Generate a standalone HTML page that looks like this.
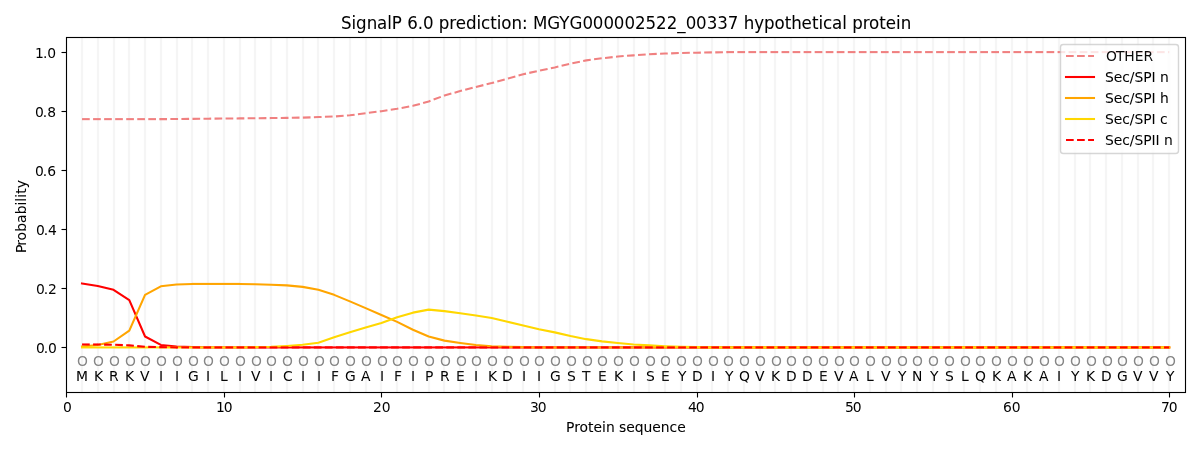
<!DOCTYPE html>
<html lang="en">
<head>
<meta charset="utf-8">
<title>SignalP 6.0 prediction: MGYG000002522_00337 hypothetical protein</title>
<style>
html,body{margin:0;padding:0;background:#fff;}
body{width:1200px;height:450px;overflow:hidden;}
svg{display:block;}
svg text{font-family:"DejaVu Sans","Liberation Sans",sans-serif;font-size:13.889px;fill:#000;white-space:pre;}
.o text{fill:#868686;}
.g{stroke:#f5f5f5;stroke-width:2.2;}
.k{stroke:#000;stroke-width:1.1111;}
.c{fill:none;stroke-width:2.0833;stroke-linejoin:round;}
</style>
</head>
<body>
<svg width="1200" height="450" viewBox="0 0 1200 450">
<rect x="0" y="0" width="1200" height="450" fill="#fff"/>
<g class="k"><line x1="66.5" y1="392.5" x2="66.5" y2="397.5"/><line x1="224.5" y1="392.5" x2="224.5" y2="397.5"/><line x1="381.5" y1="392.5" x2="381.5" y2="397.5"/><line x1="539.5" y1="392.5" x2="539.5" y2="397.5"/><line x1="697.5" y1="392.5" x2="697.5" y2="397.5"/><line x1="854.5" y1="392.5" x2="854.5" y2="397.5"/><line x1="1012.5" y1="392.5" x2="1012.5" y2="397.5"/><line x1="1169.5" y1="392.5" x2="1169.5" y2="397.5"/><line x1="61.5" y1="347.5" x2="66.5" y2="347.5"/><line x1="61.5" y1="288.5" x2="66.5" y2="288.5"/><line x1="61.5" y1="229.5" x2="66.5" y2="229.5"/><line x1="61.5" y1="170.5" x2="66.5" y2="170.5"/><line x1="61.5" y1="111.5" x2="66.5" y2="111.5"/><line x1="61.5" y1="52.5" x2="66.5" y2="52.5"/></g>
<g>
<text x="62.92" y="412">0</text>
<text x="215.972 223.847" y="412">10</text>
<text fill-opacity="0.98" x="372.917 381.667" y="412">20</text>
<text fill-opacity="0.98" x="529.905 537.655" y="412">30</text>
<text x="687.98 695.73" y="412">40</text>
<text x="844.916 852.666" y="412">50</text>
<text fill-opacity="0.98" x="1002.909 1011.784" y="412">60</text>
<text x="1160.956 1168.706" y="412">70</text>
<text x="35.96 43.71 48.085" y="353">0.0</text>
<text fill-opacity="0.98" x="35.92 43.67 48.045" y="294">0.2</text>
<text x="35.968 43.718 48.093" y="235">0.4</text>
<text x="34.901 42.651 47.276" y="176">0.6</text>
<text x="34.955 42.705 47.33" y="117">0.8</text>
<text x="34.875 43 47.125" y="58">1.0</text>
</g>
<text stroke="#000" stroke-width="0.059" x="565.991 574.366 579.616 588.116 593.616 602.116 605.991 614.741 619.116 626.241 634.741 643.616 652.366 660.866 669.616 677.241" y="432">Protein sequence</text>
<text stroke="#000" stroke-width="0.044" transform="translate(26 253.869) rotate(-90)" x="0.75 8.125 13.375 22.125 30.75 39.625 48.25 52.125 56 60.125 65.625" y="0">Probability</text>
<g class="g"><line x1="82" y1="37.50" x2="82" y2="392.50"/><line x1="98" y1="37.50" x2="98" y2="392.50"/><line x1="114" y1="37.50" x2="114" y2="392.50"/><line x1="129" y1="37.50" x2="129" y2="392.50"/><line x1="145" y1="37.50" x2="145" y2="392.50"/><line x1="161" y1="37.50" x2="161" y2="392.50"/><line x1="177" y1="37.50" x2="177" y2="392.50"/><line x1="192" y1="37.50" x2="192" y2="392.50"/><line x1="208" y1="37.50" x2="208" y2="392.50"/><line x1="224" y1="37.50" x2="224" y2="392.50"/><line x1="240" y1="37.50" x2="240" y2="392.50"/><line x1="255" y1="37.50" x2="255" y2="392.50"/><line x1="271" y1="37.50" x2="271" y2="392.50"/><line x1="287" y1="37.50" x2="287" y2="392.50"/><line x1="303" y1="37.50" x2="303" y2="392.50"/><line x1="318" y1="37.50" x2="318" y2="392.50"/><line x1="334" y1="37.50" x2="334" y2="392.50"/><line x1="350" y1="37.50" x2="350" y2="392.50"/><line x1="366" y1="37.50" x2="366" y2="392.50"/><line x1="381" y1="37.50" x2="381" y2="392.50"/><line x1="397" y1="37.50" x2="397" y2="392.50"/><line x1="413" y1="37.50" x2="413" y2="392.50"/><line x1="429" y1="37.50" x2="429" y2="392.50"/><line x1="444" y1="37.50" x2="444" y2="392.50"/><line x1="460" y1="37.50" x2="460" y2="392.50"/><line x1="476" y1="37.50" x2="476" y2="392.50"/><line x1="492" y1="37.50" x2="492" y2="392.50"/><line x1="507" y1="37.50" x2="507" y2="392.50"/><line x1="523" y1="37.50" x2="523" y2="392.50"/><line x1="539" y1="37.50" x2="539" y2="392.50"/><line x1="555" y1="37.50" x2="555" y2="392.50"/><line x1="570" y1="37.50" x2="570" y2="392.50"/><line x1="586" y1="37.50" x2="586" y2="392.50"/><line x1="602" y1="37.50" x2="602" y2="392.50"/><line x1="618" y1="37.50" x2="618" y2="392.50"/><line x1="634" y1="37.50" x2="634" y2="392.50"/><line x1="649" y1="37.50" x2="649" y2="392.50"/><line x1="665" y1="37.50" x2="665" y2="392.50"/><line x1="681" y1="37.50" x2="681" y2="392.50"/><line x1="697" y1="37.50" x2="697" y2="392.50"/><line x1="712" y1="37.50" x2="712" y2="392.50"/><line x1="728" y1="37.50" x2="728" y2="392.50"/><line x1="744" y1="37.50" x2="744" y2="392.50"/><line x1="760" y1="37.50" x2="760" y2="392.50"/><line x1="775" y1="37.50" x2="775" y2="392.50"/><line x1="791" y1="37.50" x2="791" y2="392.50"/><line x1="807" y1="37.50" x2="807" y2="392.50"/><line x1="823" y1="37.50" x2="823" y2="392.50"/><line x1="838" y1="37.50" x2="838" y2="392.50"/><line x1="854" y1="37.50" x2="854" y2="392.50"/><line x1="870" y1="37.50" x2="870" y2="392.50"/><line x1="886" y1="37.50" x2="886" y2="392.50"/><line x1="901" y1="37.50" x2="901" y2="392.50"/><line x1="917" y1="37.50" x2="917" y2="392.50"/><line x1="933" y1="37.50" x2="933" y2="392.50"/><line x1="949" y1="37.50" x2="949" y2="392.50"/><line x1="964" y1="37.50" x2="964" y2="392.50"/><line x1="980" y1="37.50" x2="980" y2="392.50"/><line x1="996" y1="37.50" x2="996" y2="392.50"/><line x1="1012" y1="37.50" x2="1012" y2="392.50"/><line x1="1027" y1="37.50" x2="1027" y2="392.50"/><line x1="1043" y1="37.50" x2="1043" y2="392.50"/><line x1="1059" y1="37.50" x2="1059" y2="392.50"/><line x1="1075" y1="37.50" x2="1075" y2="392.50"/><line x1="1090" y1="37.50" x2="1090" y2="392.50"/><line x1="1106" y1="37.50" x2="1106" y2="392.50"/><line x1="1122" y1="37.50" x2="1122" y2="392.50"/><line x1="1138" y1="37.50" x2="1138" y2="392.50"/><line x1="1153" y1="37.50" x2="1153" y2="392.50"/><line x1="1169" y1="37.50" x2="1169" y2="392.50"/></g>
<g>
<g class="c" stroke="#f08080" stroke-dasharray="7.708 3.333"><path d="M160.818 119.138 L176.574 119.02 L192.331 118.872 L208.088 118.695 L223.844 118.547 L239.601 118.4 L255.358 118.252 L271.114 118.075 L286.871 117.868 L302.628 117.602 L318.384 117.071 L334.141 116.48 L349.897 115.299 L365.654 113.232 L381.411 111.164 L397.167 108.802 L412.924 105.849 L428.681 101.419 L444.437 95.512 L460.194 91.082 L475.951 86.948 L491.707 83.109 L507.464 78.679 L523.221 74.249 L538.977 70.705 L554.734 67.456 L570.491 63.617 L586.247 60.369 L602.004 58.301 L617.761 56.529 L633.517 55.348 L649.274 54.167 L665.031 53.576 L680.787 52.986 L696.544 52.69 L712.3 52.395 L728.057 52.1" stroke-dashoffset="1.492"/></g>
<g class="c" stroke="#f08080"><line x1="82.034" y1="119.138" x2="89.743" y2="119.138"/><line x1="93.076" y1="119.138" x2="100.784" y2="119.138"/><line x1="104.118" y1="119.138" x2="111.826" y2="119.138"/><line x1="115.159" y1="119.138" x2="122.868" y2="119.138"/><line x1="126.201" y1="119.138" x2="133.909" y2="119.138"/><line x1="137.243" y1="119.138" x2="144.951" y2="119.138"/><line x1="148.284" y1="119.138" x2="155.993" y2="119.138"/><line x1="159.326" y1="119.138" x2="161" y2="119.138"/><line x1="728" y1="52.1" x2="734.028" y2="52.1"/><line x1="737.362" y1="52.1" x2="745.07" y2="52.1"/><line x1="748.403" y1="52.1" x2="756.112" y2="52.1"/><line x1="759.445" y1="52.1" x2="767.153" y2="52.1"/><line x1="770.487" y1="52.1" x2="778.195" y2="52.1"/><line x1="781.528" y1="52.1" x2="789.237" y2="52.1"/><line x1="792.57" y1="52.1" x2="800.278" y2="52.1"/><line x1="803.612" y1="52.1" x2="811.32" y2="52.1"/><line x1="814.653" y1="52.1" x2="822.362" y2="52.1"/><line x1="825.695" y1="52.1" x2="833.403" y2="52.1"/><line x1="836.737" y1="52.1" x2="844.445" y2="52.1"/><line x1="847.778" y1="52.1" x2="855.487" y2="52.1"/><line x1="858.82" y1="52.1" x2="866.528" y2="52.1"/><line x1="869.862" y1="52.1" x2="877.57" y2="52.1"/><line x1="880.903" y1="52.1" x2="888.612" y2="52.1"/><line x1="891.945" y1="52.1" x2="899.653" y2="52.1"/><line x1="902.987" y1="52.1" x2="910.695" y2="52.1"/><line x1="914.028" y1="52.1" x2="921.737" y2="52.1"/><line x1="925.07" y1="52.1" x2="932.778" y2="52.1"/><line x1="936.112" y1="52.1" x2="943.82" y2="52.1"/><line x1="947.153" y1="52.1" x2="954.862" y2="52.1"/><line x1="958.195" y1="52.1" x2="965.903" y2="52.1"/><line x1="969.237" y1="52.1" x2="976.945" y2="52.1"/><line x1="980.278" y1="52.1" x2="987.987" y2="52.1"/><line x1="991.32" y1="52.1" x2="999.028" y2="52.1"/><line x1="1002.362" y1="52.1" x2="1010.07" y2="52.1"/><line x1="1013.403" y1="52.1" x2="1021.112" y2="52.1"/><line x1="1024.445" y1="52.1" x2="1032.153" y2="52.1"/><line x1="1035.487" y1="52.1" x2="1043.195" y2="52.1"/><line x1="1046.528" y1="52.1" x2="1054.237" y2="52.1"/><line x1="1057.57" y1="52.1" x2="1065.278" y2="52.1"/><line x1="1068.612" y1="52.1" x2="1076.32" y2="52.1"/><line x1="1079.653" y1="52.1" x2="1087.362" y2="52.1"/><line x1="1090.695" y1="52.1" x2="1098.403" y2="52.1"/><line x1="1101.737" y1="52.1" x2="1109.445" y2="52.1"/><line x1="1112.778" y1="52.1" x2="1120.487" y2="52.1"/><line x1="1123.82" y1="52.1" x2="1131.528" y2="52.1"/><line x1="1134.862" y1="52.1" x2="1142.57" y2="52.1"/><line x1="1145.903" y1="52.1" x2="1153.612" y2="52.1"/><line x1="1156.945" y1="52.1" x2="1164.653" y2="52.1"/><line x1="1167.987" y1="52.1" x2="1169.243" y2="52.1"/></g>
<g class="c" stroke="#ff0000"><path d="M82.034 283.486 L97.791 285.996 L113.548 289.835 L129.304 300.172 L145.061 336.497 L160.818 344.913 L176.574 346.597 L192.331 347.128 L208.088 347.424"/></g>
<g class="c" stroke="#ff0000"><line x1="82.034" y1="283.486" x2="81.006" y2="283.322"/><line x1="208" y1="347.424" x2="224" y2="347.424"/><line x1="224" y1="347.424" x2="240" y2="347.424"/><line x1="240" y1="347.424" x2="256" y2="347.424"/><line x1="256" y1="347.424" x2="272" y2="347.424"/><line x1="272" y1="347.424" x2="288" y2="347.424"/><line x1="288" y1="347.424" x2="304" y2="347.424"/><line x1="304" y1="347.424" x2="320" y2="347.424"/><line x1="320" y1="347.424" x2="336" y2="347.424"/><line x1="336" y1="347.424" x2="352" y2="347.424"/><line x1="352" y1="347.424" x2="368" y2="347.424"/><line x1="368" y1="347.424" x2="384" y2="347.424"/><line x1="384" y1="347.424" x2="400" y2="347.424"/><line x1="400" y1="347.424" x2="416" y2="347.424"/><line x1="416" y1="347.424" x2="432" y2="347.424"/><line x1="432" y1="347.424" x2="448" y2="347.424"/><line x1="448" y1="347.424" x2="464" y2="347.424"/><line x1="464" y1="347.424" x2="480" y2="347.424"/><line x1="480" y1="347.424" x2="496" y2="347.424"/><line x1="496" y1="347.424" x2="512" y2="347.424"/><line x1="512" y1="347.424" x2="528" y2="347.424"/><line x1="528" y1="347.424" x2="544" y2="347.424"/><line x1="544" y1="347.424" x2="560" y2="347.424"/><line x1="560" y1="347.424" x2="576" y2="347.424"/><line x1="576" y1="347.424" x2="592" y2="347.424"/><line x1="592" y1="347.424" x2="608" y2="347.424"/><line x1="608" y1="347.424" x2="624" y2="347.424"/><line x1="624" y1="347.424" x2="640" y2="347.424"/><line x1="640" y1="347.424" x2="656" y2="347.424"/><line x1="656" y1="347.424" x2="672" y2="347.424"/><line x1="672" y1="347.424" x2="688" y2="347.424"/><line x1="688" y1="347.424" x2="704" y2="347.424"/><line x1="704" y1="347.424" x2="720" y2="347.424"/><line x1="720" y1="347.424" x2="736" y2="347.424"/><line x1="736" y1="347.424" x2="752" y2="347.424"/><line x1="752" y1="347.424" x2="768" y2="347.424"/><line x1="768" y1="347.424" x2="784" y2="347.424"/><line x1="784" y1="347.424" x2="800" y2="347.424"/><line x1="800" y1="347.424" x2="816" y2="347.424"/><line x1="816" y1="347.424" x2="832" y2="347.424"/><line x1="832" y1="347.424" x2="848" y2="347.424"/><line x1="848" y1="347.424" x2="864" y2="347.424"/><line x1="864" y1="347.424" x2="880" y2="347.424"/><line x1="880" y1="347.424" x2="896" y2="347.424"/><line x1="896" y1="347.424" x2="912" y2="347.424"/><line x1="912" y1="347.424" x2="928" y2="347.424"/><line x1="928" y1="347.424" x2="944" y2="347.424"/><line x1="944" y1="347.424" x2="960" y2="347.424"/><line x1="960" y1="347.424" x2="976" y2="347.424"/><line x1="976" y1="347.424" x2="992" y2="347.424"/><line x1="992" y1="347.424" x2="1008" y2="347.424"/><line x1="1008" y1="347.424" x2="1024" y2="347.424"/><line x1="1024" y1="347.424" x2="1040" y2="347.424"/><line x1="1040" y1="347.424" x2="1056" y2="347.424"/><line x1="1056" y1="347.424" x2="1072" y2="347.424"/><line x1="1072" y1="347.424" x2="1088" y2="347.424"/><line x1="1088" y1="347.424" x2="1104" y2="347.424"/><line x1="1104" y1="347.424" x2="1120" y2="347.424"/><line x1="1120" y1="347.424" x2="1136" y2="347.424"/><line x1="1136" y1="347.424" x2="1152" y2="347.424"/><line x1="1152" y1="347.424" x2="1170.285" y2="347.424"/></g>
<g class="c" stroke="#ffa500"><path d="M82.034 346.538 L97.791 345.061 L113.548 341.517 L129.304 330.59 L145.061 294.856 L160.818 286.292 L176.574 284.52 L192.331 283.929"/><path d="M239.601 283.929 L255.358 284.224 L271.114 284.815 L286.871 285.406 L302.628 286.882 L318.384 289.835 L334.141 294.856 L349.897 301.353 L365.654 308.146 L381.411 314.938 L397.167 321.878 L412.924 329.704 L428.681 336.497 L444.437 340.631 L460.194 342.994 L475.951 345.061 L491.707 346.242 L507.464 346.833 L523.221 347.128 L538.977 347.424"/></g>
<g class="c" stroke="#ffa500"><line x1="82.034" y1="346.538" x2="80.997" y2="346.635"/><line x1="192" y1="283.929" x2="208" y2="283.929"/><line x1="208" y1="283.929" x2="224" y2="283.929"/><line x1="224" y1="283.929" x2="240" y2="283.929"/><line x1="538" y1="347.424" x2="554" y2="347.424"/><line x1="554" y1="347.424" x2="570" y2="347.424"/><line x1="570" y1="347.424" x2="586" y2="347.424"/><line x1="586" y1="347.424" x2="602" y2="347.424"/><line x1="602" y1="347.424" x2="618" y2="347.424"/><line x1="618" y1="347.424" x2="634" y2="347.424"/><line x1="634" y1="347.424" x2="650" y2="347.424"/><line x1="650" y1="347.424" x2="666" y2="347.424"/><line x1="666" y1="347.424" x2="682" y2="347.424"/><line x1="682" y1="347.424" x2="698" y2="347.424"/><line x1="698" y1="347.424" x2="714" y2="347.424"/><line x1="714" y1="347.424" x2="730" y2="347.424"/><line x1="730" y1="347.424" x2="746" y2="347.424"/><line x1="746" y1="347.424" x2="762" y2="347.424"/><line x1="762" y1="347.424" x2="778" y2="347.424"/><line x1="778" y1="347.424" x2="794" y2="347.424"/><line x1="794" y1="347.424" x2="810" y2="347.424"/><line x1="810" y1="347.424" x2="826" y2="347.424"/><line x1="826" y1="347.424" x2="842" y2="347.424"/><line x1="842" y1="347.424" x2="858" y2="347.424"/><line x1="858" y1="347.424" x2="874" y2="347.424"/><line x1="874" y1="347.424" x2="890" y2="347.424"/><line x1="890" y1="347.424" x2="906" y2="347.424"/><line x1="906" y1="347.424" x2="922" y2="347.424"/><line x1="922" y1="347.424" x2="938" y2="347.424"/><line x1="938" y1="347.424" x2="954" y2="347.424"/><line x1="954" y1="347.424" x2="970" y2="347.424"/><line x1="970" y1="347.424" x2="986" y2="347.424"/><line x1="986" y1="347.424" x2="1002" y2="347.424"/><line x1="1002" y1="347.424" x2="1018" y2="347.424"/><line x1="1018" y1="347.424" x2="1034" y2="347.424"/><line x1="1034" y1="347.424" x2="1050" y2="347.424"/><line x1="1050" y1="347.424" x2="1066" y2="347.424"/><line x1="1066" y1="347.424" x2="1082" y2="347.424"/><line x1="1082" y1="347.424" x2="1098" y2="347.424"/><line x1="1098" y1="347.424" x2="1114" y2="347.424"/><line x1="1114" y1="347.424" x2="1130" y2="347.424"/><line x1="1130" y1="347.424" x2="1146" y2="347.424"/><line x1="1146" y1="347.424" x2="1162" y2="347.424"/><line x1="1162" y1="347.424" x2="1170.285" y2="347.424"/></g>
<g class="c" stroke="#ffd700"><path d="M239.601 347.424 L255.358 347.128 L271.114 346.833 L286.871 345.947 L302.628 344.766 L318.384 342.698 L334.141 337.235 L349.897 332.214 L365.654 327.489 L381.411 322.912 L397.167 317.301 L412.924 312.634 L428.681 309.622 L444.437 311.099 L460.194 313.166 L475.951 315.529 L491.707 318.039 L507.464 321.73 L523.221 325.422 L538.977 329.261 L554.734 332.362 L570.491 336.054 L586.247 339.155 L602.004 341.369 L617.761 342.994 L633.517 344.47 L649.274 345.356 L665.031 346.242 L680.787 346.833 L696.544 347.128 L712.3 347.424"/></g>
<g class="c" stroke="#ffd700"><line x1="80.993" y1="347.424" x2="96" y2="347.424"/><line x1="96" y1="347.424" x2="112" y2="347.424"/><line x1="112" y1="347.424" x2="128" y2="347.424"/><line x1="128" y1="347.424" x2="144" y2="347.424"/><line x1="144" y1="347.424" x2="160" y2="347.424"/><line x1="160" y1="347.424" x2="176" y2="347.424"/><line x1="176" y1="347.424" x2="192" y2="347.424"/><line x1="192" y1="347.424" x2="208" y2="347.424"/><line x1="208" y1="347.424" x2="224" y2="347.424"/><line x1="224" y1="347.424" x2="240" y2="347.424"/><line x1="712" y1="347.424" x2="728" y2="347.424"/><line x1="728" y1="347.424" x2="744" y2="347.424"/><line x1="744" y1="347.424" x2="760" y2="347.424"/><line x1="760" y1="347.424" x2="776" y2="347.424"/><line x1="776" y1="347.424" x2="792" y2="347.424"/><line x1="792" y1="347.424" x2="808" y2="347.424"/><line x1="808" y1="347.424" x2="824" y2="347.424"/><line x1="824" y1="347.424" x2="840" y2="347.424"/><line x1="840" y1="347.424" x2="856" y2="347.424"/><line x1="856" y1="347.424" x2="872" y2="347.424"/><line x1="872" y1="347.424" x2="888" y2="347.424"/><line x1="888" y1="347.424" x2="904" y2="347.424"/><line x1="904" y1="347.424" x2="920" y2="347.424"/><line x1="920" y1="347.424" x2="936" y2="347.424"/><line x1="936" y1="347.424" x2="952" y2="347.424"/><line x1="952" y1="347.424" x2="968" y2="347.424"/><line x1="968" y1="347.424" x2="984" y2="347.424"/><line x1="984" y1="347.424" x2="1000" y2="347.424"/><line x1="1000" y1="347.424" x2="1016" y2="347.424"/><line x1="1016" y1="347.424" x2="1032" y2="347.424"/><line x1="1032" y1="347.424" x2="1048" y2="347.424"/><line x1="1048" y1="347.424" x2="1064" y2="347.424"/><line x1="1064" y1="347.424" x2="1080" y2="347.424"/><line x1="1080" y1="347.424" x2="1096" y2="347.424"/><line x1="1096" y1="347.424" x2="1112" y2="347.424"/><line x1="1112" y1="347.424" x2="1128" y2="347.424"/><line x1="1128" y1="347.424" x2="1144" y2="347.424"/><line x1="1144" y1="347.424" x2="1160" y2="347.424"/><line x1="1160" y1="347.424" x2="1170.285" y2="347.424"/></g>
<g class="c" stroke="#ff0000" stroke-dasharray="7.708 3.333"><path d="M97.791 344.47 L113.548 344.766 L129.304 345.356 L145.061 346.833 L160.818 347.128 L176.574 347.424" stroke-dashoffset="4.715"/></g>
<g class="c" stroke="#ff0000"><line x1="82.034" y1="344.47" x2="89.743" y2="344.47"/><line x1="93.076" y1="344.47" x2="98" y2="344.47"/><line x1="176" y1="347.424" x2="177.988" y2="347.424"/><line x1="181.321" y1="347.424" x2="189.029" y2="347.424"/><line x1="192.363" y1="347.424" x2="200.071" y2="347.424"/><line x1="203.404" y1="347.424" x2="211.113" y2="347.424"/><line x1="214.446" y1="347.424" x2="222.154" y2="347.424"/><line x1="225.488" y1="347.424" x2="233.196" y2="347.424"/><line x1="236.529" y1="347.424" x2="244.238" y2="347.424"/><line x1="247.571" y1="347.424" x2="255.279" y2="347.424"/><line x1="258.613" y1="347.424" x2="266.321" y2="347.424"/><line x1="269.654" y1="347.424" x2="277.363" y2="347.424"/><line x1="280.696" y1="347.424" x2="288.404" y2="347.424"/><line x1="291.738" y1="347.424" x2="299.446" y2="347.424"/><line x1="302.779" y1="347.424" x2="310.488" y2="347.424"/><line x1="313.821" y1="347.424" x2="321.529" y2="347.424"/><line x1="324.863" y1="347.424" x2="332.571" y2="347.424"/><line x1="335.904" y1="347.424" x2="343.613" y2="347.424"/><line x1="346.946" y1="347.424" x2="354.654" y2="347.424"/><line x1="357.988" y1="347.424" x2="365.696" y2="347.424"/><line x1="369.029" y1="347.424" x2="376.738" y2="347.424"/><line x1="380.071" y1="347.424" x2="387.779" y2="347.424"/><line x1="391.113" y1="347.424" x2="398.821" y2="347.424"/><line x1="402.154" y1="347.424" x2="409.863" y2="347.424"/><line x1="413.196" y1="347.424" x2="420.904" y2="347.424"/><line x1="424.238" y1="347.424" x2="431.946" y2="347.424"/><line x1="435.279" y1="347.424" x2="442.988" y2="347.424"/><line x1="446.321" y1="347.424" x2="454.029" y2="347.424"/><line x1="457.363" y1="347.424" x2="465.071" y2="347.424"/><line x1="468.404" y1="347.424" x2="476.113" y2="347.424"/><line x1="479.446" y1="347.424" x2="487.154" y2="347.424"/><line x1="490.488" y1="347.424" x2="498.196" y2="347.424"/><line x1="501.529" y1="347.424" x2="509.238" y2="347.424"/><line x1="512.571" y1="347.424" x2="520.279" y2="347.424"/><line x1="523.613" y1="347.424" x2="531.321" y2="347.424"/><line x1="534.654" y1="347.424" x2="542.363" y2="347.424"/><line x1="545.696" y1="347.424" x2="553.404" y2="347.424"/><line x1="556.738" y1="347.424" x2="564.446" y2="347.424"/><line x1="567.779" y1="347.424" x2="575.488" y2="347.424"/><line x1="578.821" y1="347.424" x2="586.529" y2="347.424"/><line x1="589.863" y1="347.424" x2="597.571" y2="347.424"/><line x1="600.904" y1="347.424" x2="608.613" y2="347.424"/><line x1="611.946" y1="347.424" x2="619.654" y2="347.424"/><line x1="622.988" y1="347.424" x2="630.696" y2="347.424"/><line x1="634.029" y1="347.424" x2="641.738" y2="347.424"/><line x1="645.071" y1="347.424" x2="652.779" y2="347.424"/><line x1="656.113" y1="347.424" x2="663.821" y2="347.424"/><line x1="667.154" y1="347.424" x2="674.863" y2="347.424"/><line x1="678.196" y1="347.424" x2="685.904" y2="347.424"/><line x1="689.238" y1="347.424" x2="696.946" y2="347.424"/><line x1="700.279" y1="347.424" x2="707.988" y2="347.424"/><line x1="711.321" y1="347.424" x2="719.029" y2="347.424"/><line x1="722.363" y1="347.424" x2="730.071" y2="347.424"/><line x1="733.404" y1="347.424" x2="741.113" y2="347.424"/><line x1="744.446" y1="347.424" x2="752.154" y2="347.424"/><line x1="755.488" y1="347.424" x2="763.196" y2="347.424"/><line x1="766.529" y1="347.424" x2="774.238" y2="347.424"/><line x1="777.571" y1="347.424" x2="785.279" y2="347.424"/><line x1="788.613" y1="347.424" x2="796.321" y2="347.424"/><line x1="799.654" y1="347.424" x2="807.363" y2="347.424"/><line x1="810.696" y1="347.424" x2="818.404" y2="347.424"/><line x1="821.738" y1="347.424" x2="829.446" y2="347.424"/><line x1="832.779" y1="347.424" x2="840.488" y2="347.424"/><line x1="843.821" y1="347.424" x2="851.529" y2="347.424"/><line x1="854.863" y1="347.424" x2="862.571" y2="347.424"/><line x1="865.904" y1="347.424" x2="873.613" y2="347.424"/><line x1="876.946" y1="347.424" x2="884.654" y2="347.424"/><line x1="887.988" y1="347.424" x2="895.696" y2="347.424"/><line x1="899.029" y1="347.424" x2="906.738" y2="347.424"/><line x1="910.071" y1="347.424" x2="917.779" y2="347.424"/><line x1="921.113" y1="347.424" x2="928.821" y2="347.424"/><line x1="932.154" y1="347.424" x2="939.863" y2="347.424"/><line x1="943.196" y1="347.424" x2="950.904" y2="347.424"/><line x1="954.238" y1="347.424" x2="961.946" y2="347.424"/><line x1="965.279" y1="347.424" x2="972.988" y2="347.424"/><line x1="976.321" y1="347.424" x2="984.029" y2="347.424"/><line x1="987.363" y1="347.424" x2="995.071" y2="347.424"/><line x1="998.404" y1="347.424" x2="1006.113" y2="347.424"/><line x1="1009.446" y1="347.424" x2="1017.154" y2="347.424"/><line x1="1020.488" y1="347.424" x2="1028.196" y2="347.424"/><line x1="1031.529" y1="347.424" x2="1039.238" y2="347.424"/><line x1="1042.571" y1="347.424" x2="1050.279" y2="347.424"/><line x1="1053.613" y1="347.424" x2="1061.321" y2="347.424"/><line x1="1064.654" y1="347.424" x2="1072.363" y2="347.424"/><line x1="1075.696" y1="347.424" x2="1083.404" y2="347.424"/><line x1="1086.738" y1="347.424" x2="1094.446" y2="347.424"/><line x1="1097.779" y1="347.424" x2="1105.488" y2="347.424"/><line x1="1108.821" y1="347.424" x2="1116.529" y2="347.424"/><line x1="1119.863" y1="347.424" x2="1127.571" y2="347.424"/><line x1="1130.904" y1="347.424" x2="1138.613" y2="347.424"/><line x1="1141.946" y1="347.424" x2="1149.654" y2="347.424"/><line x1="1152.988" y1="347.424" x2="1160.696" y2="347.424"/><line x1="1164.029" y1="347.424" x2="1169.243" y2="347.424"/></g>
</g>
<rect class="k" fill="none" x="66.5" y="37.5" width="1119.0" height="355.0"/>
<g class="o">
<text x="76.977" y="366">O</text>
<text x="92.987" y="366">O</text>
<text x="108.939" y="366">O</text>
<text x="124.971" y="366">O</text>
<text x="139.879" y="366">O</text>
<text x="155.983" y="366">O</text>
<text x="171.966" y="366">O</text>
<text x="187.93" y="366">O</text>
<text x="202.969" y="366">O</text>
<text x="218.885" y="366">O</text>
<text x="234.992" y="366">O</text>
<text x="250.957" y="366">O</text>
<text x="265.929" y="366">O</text>
<text x="281.911" y="366">O</text>
<text x="297.894" y="366">O</text>
<text x="313.984" y="366">O</text>
<text x="328.955" y="366">O</text>
<text x="344.938" y="366">O</text>
<text x="360.948" y="366">O</text>
<text x="376.885" y="366">O</text>
<text x="391.982" y="366">O</text>
<text x="407.965" y="366">O</text>
<text x="423.974" y="366">O</text>
<text x="439.912" y="366">O</text>
<text x="455.986" y="366">O</text>
<text x="470.991" y="366">O</text>
<text x="486.876" y="366">O</text>
<text x="502.939" y="366">O</text>
<text x="518.887" y="366">O</text>
<text x="533.893" y="366">O</text>
<text x="549.929" y="366">O</text>
<text x="565.965" y="366">O</text>
<text x="581.914" y="366">O</text>
<text x="596.946" y="366">O</text>
<text x="612.956" y="366">O</text>
<text x="628.882" y="366">O</text>
<text x="644.94" y="366">O</text>
<text x="659.973" y="366">O</text>
<text x="675.983" y="366">O</text>
<text x="691.935" y="366">O</text>
<text x="707.967" y="366">O</text>
<text x="722.875" y="366">O</text>
<text x="738.979" y="366">O</text>
<text x="754.962" y="366">O</text>
<text x="770.927" y="366">O</text>
<text x="785.965" y="366">O</text>
<text x="801.881" y="366">O</text>
<text x="817.989" y="366">O</text>
<text x="833.953" y="366">O</text>
<text x="848.925" y="366">O</text>
<text x="864.907" y="366">O</text>
<text x="880.89" y="366">O</text>
<text x="896.98" y="366">O</text>
<text x="911.951" y="366">O</text>
<text x="927.934" y="366">O</text>
<text x="943.944" y="366">O</text>
<text x="959.881" y="366">O</text>
<text x="974.978" y="366">O</text>
<text x="990.961" y="366">O</text>
<text x="1006.97" y="366">O</text>
<text x="1022.908" y="366">O</text>
<text x="1038.982" y="366">O</text>
<text x="1053.987" y="366">O</text>
<text x="1069.997" y="366">O</text>
<text x="1085.935" y="366">O</text>
<text x="1101.883" y="366">O</text>
<text x="1116.889" y="366">O</text>
<text x="1132.926" y="366">O</text>
<text x="1148.961" y="366">O</text>
<text x="1164.91" y="366">O</text>
</g>
<g>
<text stroke="#000" stroke-width="0.038" x="75.954" y="381">M</text>
<text x="93.953" y="381">K</text>
<text fill-opacity="0.989" x="108.984" y="381">R</text>
<text x="124.919" y="381">K</text>
<text stroke="#000" stroke-width="0.038" x="139.919" y="381">V</text>
<text fill-opacity="0.988" x="158.987" y="381">I</text>
<text fill-opacity="0.988" x="174.957" y="381">I</text>
<text fill-opacity="0.992" x="187.902" y="381">G</text>
<text fill-opacity="0.988" x="205.927" y="381">I</text>
<text fill-opacity="0.971" x="219.959" y="381">L</text>
<text fill-opacity="0.988" x="237.984" y="381">I</text>
<text stroke="#000" stroke-width="0.038" x="250.963" y="381">V</text>
<text fill-opacity="0.988" x="268.953" y="381">I</text>
<text fill-opacity="0.98" x="282.879" y="381">C</text>
<text fill-opacity="0.988" x="300.877" y="381">I</text>
<text fill-opacity="0.988" x="316.912" y="381">I</text>
<text fill-opacity="0.937" x="330.938" y="381">F</text>
<text fill-opacity="0.992" x="344.925" y="381">G</text>
<text stroke="#000" stroke-width="0.013" x="360.913" y="381">A</text>
<text fill-opacity="0.988" x="379.939" y="381">I</text>
<text fill-opacity="0.937" x="393.964" y="381">F</text>
<text fill-opacity="0.988" x="410.888" y="381">I</text>
<text fill-opacity="0.97" x="424.894" y="381">P</text>
<text fill-opacity="0.989" x="439.965" y="381">R</text>
<text fill-opacity="0.924" x="455.895" y="381">E</text>
<text fill-opacity="0.988" x="473.915" y="381">I</text>
<text x="487.994" y="381">K</text>
<text stroke="#000" stroke-width="0.014" x="501.925" y="381">D</text>
<text fill-opacity="0.988" x="521.971" y="381">I</text>
<text fill-opacity="0.988" x="536.941" y="381">I</text>
<text fill-opacity="0.992" x="549.975" y="381">G</text>
<text stroke="#000" stroke-width="0.025" x="566.879" y="381">S</text>
<text fill-opacity="0.934" x="581.983" y="381">T</text>
<text fill-opacity="0.924" x="597.955" y="381">E</text>
<text x="613.923" y="381">K</text>
<text fill-opacity="0.988" x="631.9" y="381">I</text>
<text stroke="#000" stroke-width="0.025" x="645.896" y="381">S</text>
<text fill-opacity="0.924" x="660.982" y="381">E</text>
<text fill-opacity="0.978" x="677.937" y="381">Y</text>
<text stroke="#000" stroke-width="0.014" x="691.875" y="381">D</text>
<text fill-opacity="0.988" x="710.925" y="381">I</text>
<text fill-opacity="0.978" x="724.981" y="381">Y</text>
<text fill-opacity="0.988" x="738.928" y="381">Q</text>
<text stroke="#000" stroke-width="0.038" x="754.93" y="381">V</text>
<text x="770.942" y="381">K</text>
<text stroke="#000" stroke-width="0.014" x="785.916" y="381">D</text>
<text stroke="#000" stroke-width="0.014" x="801.988" y="381">D</text>
<text fill-opacity="0.924" x="818.914" y="381">E</text>
<text stroke="#000" stroke-width="0.038" x="833.959" y="381">V</text>
<text stroke="#000" stroke-width="0.013" x="848.974" y="381">A</text>
<text fill-opacity="0.971" x="865.982" y="381">L</text>
<text stroke="#000" stroke-width="0.038" x="880.984" y="381">V</text>
<text fill-opacity="0.978" x="897.919" y="381">Y</text>
<text fill-opacity="0.995" x="911.913" y="381">N</text>
<text fill-opacity="0.978" x="929.914" y="381">Y</text>
<text stroke="#000" stroke-width="0.025" x="944.941" y="381">S</text>
<text fill-opacity="0.971" x="960.93" y="381">L</text>
<text fill-opacity="0.988" x="974.886" y="381">Q</text>
<text x="991.964" y="381">K</text>
<text stroke="#000" stroke-width="0.013" x="1006.936" y="381">A</text>
<text x="1022.945" y="381">K</text>
<text stroke="#000" stroke-width="0.013" x="1038.916" y="381">A</text>
<text fill-opacity="0.988" x="1056.911" y="381">I</text>
<text fill-opacity="0.978" x="1070.957" y="381">Y</text>
<text x="1085.972" y="381">K</text>
<text stroke="#000" stroke-width="0.014" x="1100.932" y="381">D</text>
<text fill-opacity="0.992" x="1116.988" y="381">G</text>
<text stroke="#000" stroke-width="0.038" x="1132.974" y="381">V</text>
<text stroke="#000" stroke-width="0.038" x="1148.968" y="381">V</text>
<text fill-opacity="0.978" x="1165.949" y="381">Y</text>
</g>
<text style="font-size:16.667px" transform="translate(0 29) scale(1 1.08)" x="341.104 351.604 355.979 366.729 376.979 387.354 391.729 402.104 407.354 417.854 423.104 433.604 438.854 449.354 455.854 466.104 476.604 480.979 490.354 496.854 501.229 511.604 522.104 527.854 533.104 547.229 559.229 569.604 582.479 592.729 603.479 613.729 624.479 634.979 645.604 656.104 666.729 677.354 685.729 695.979 706.729 717.354 727.729 738.479 743.729 754.229 764.104 774.604 784.729 791.229 801.479 811.979 818.479 823.104 831.979 842.354 846.979 852.229 862.729 868.979 879.354 885.854 896.104 900.729" y="0"><tspan stroke="#000" stroke-width="0.044">SignalP </tspan><tspan stroke="#000" stroke-width="0.037">6.0 </tspan><tspan stroke="#000" stroke-width="0.079">prediction: </tspan>MGYG000002522_00337 <tspan stroke="#000" stroke-width="0.063">hypothetical </tspan><tspan stroke="#000" stroke-width="0.08">protein</tspan></text>
<rect x="1060.5" y="44.5" width="118" height="109" rx="2.78" ry="2.78" fill="#fff" stroke="#ccc" opacity="0.8" stroke-width="1.3889"/>
<path class="c" d="M1066 56 L1094 56" stroke="#f08080" stroke-dasharray="7.708 3.333"/>
<text fill-opacity="0.962" x="1105.883 1116.008 1124.258 1134.633 1143.383" y="61">OTHER</text>
<path class="c" d="M1066 77 L1094 77" stroke="#ff0000" stroke-linecap="square"/>
<text stroke="#000" stroke-width="0.032" x="1104.953 1113.703 1122.203 1129.828 1134.453 1143.203 1151.578 1155.578 1159.953" y="82">Sec/SPI n</text>
<path class="c" d="M1066 98 L1094 98" stroke="#ffa500" stroke-linecap="square"/>
<text stroke="#000" stroke-width="0.032" x="1104.992 1113.742 1122.242 1129.867 1134.492 1143.242 1151.617 1155.617 1159.992" y="103">Sec/SPI h</text>
<path class="c" d="M1066 119 L1094 119" stroke="#ffd700" stroke-linecap="square"/>
<text stroke="#000" stroke-width="0.03" x="1104.885 1113.635 1122.135 1129.76 1134.385 1143.135 1151.51 1155.51 1159.885" y="124">Sec/SPI c</text>
<path class="c" d="M1066 140 L1094 140" stroke="#ff0000" stroke-dasharray="7.708 3.333"/>
<text stroke="#000" stroke-width="0.03" x="1104.905 1113.655 1122.155 1129.78 1134.405 1143.155 1151.53 1155.53 1159.53 1163.905" y="145">Sec/SPII n</text>
</svg>
</body>
</html>
